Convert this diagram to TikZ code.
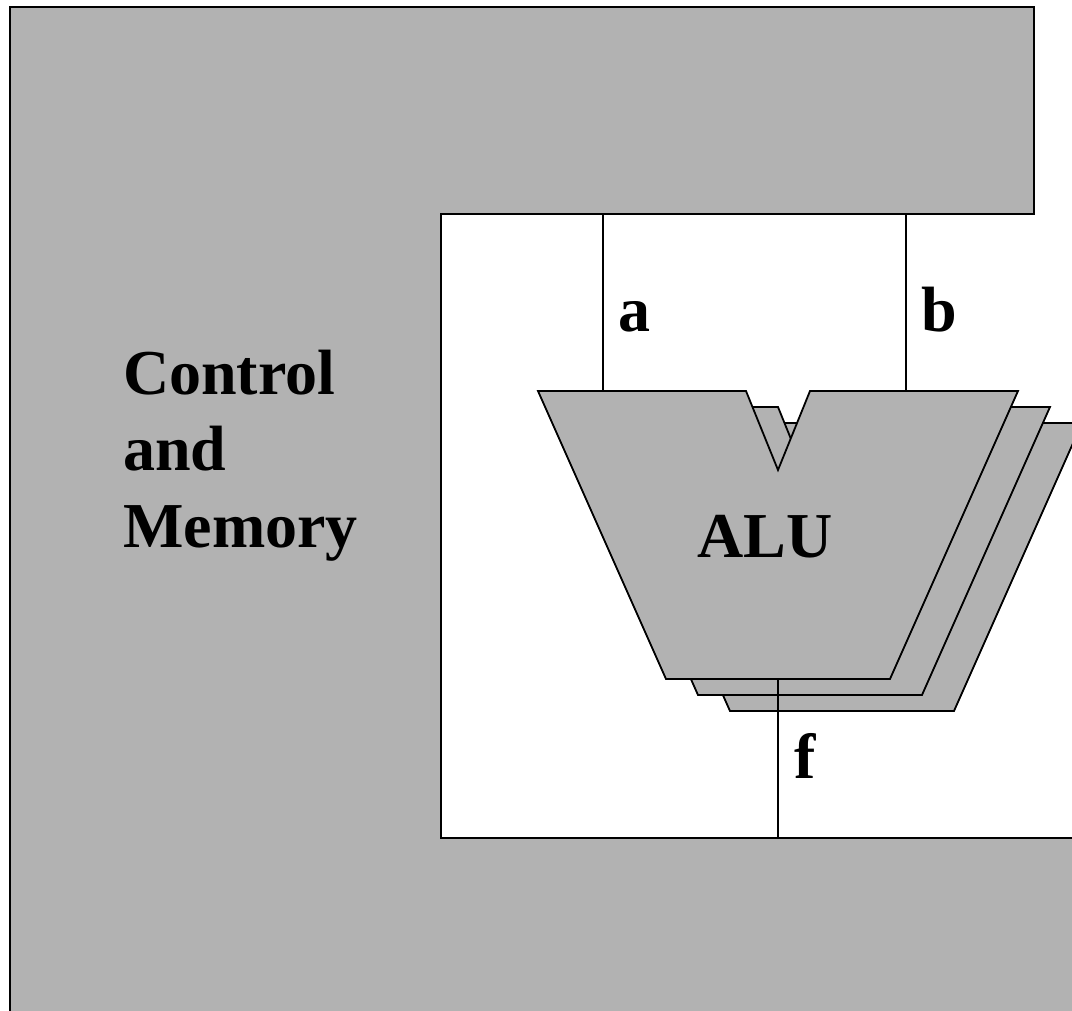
\documentclass[tikz,border=0pt]{standalone}
\usepackage{fontspec}
\setmainfont{Liberation Serif}
\definecolor{boxgray}{HTML}{B2B2B2}
\begin{document}
\begin{tikzpicture}[x=1pt,y=-1pt,
  region/.style={fill=boxgray,draw=black,line width=2pt,line join=miter},
  alushape/.style={fill=boxgray,draw=black,line width=1.8pt,line join=miter},
  wire/.style={draw=black,line width=1.6pt},
  bigtext/.style={font=\bfseries\fontsize{64}{74}\selectfont,inner sep=0pt,anchor=base west},
  lbl/.style={font=\bfseries\fontsize{58}{66}\selectfont,inner sep=0pt,anchor=base west}]
\useasboundingbox (0,0) rectangle (1072,1011);
% white background
\fill[white] (0,0) rectangle (1072,1011);
% Control and Memory region
\draw[region] (1080,1020) -- (1080,838) -- (441,838) -- (441,214) -- (1034,214) -- (1034,7) -- (10,7) -- (10,1020);
% ALU stack (back to front)
\foreach \dx/\dy/\nm in {64/32/alu3,32/16/alu2,0/0/alu1}{
  \begin{scope}[shift={(\dx,\dy)}]
    \draw[alushape] (538,391) -- (746,391) -- (778,470) -- (810,391) -- (1018,391) -- (890,679) -- (666,679) -- cycle;
  \end{scope}
}
% named connection points
\coordinate (atop) at (603,214);
\coordinate (ain) at (603,391);
\coordinate (btop) at (906,214);
\coordinate (bin) at (906,391);
\coordinate (fout) at (778,679);
\coordinate (fbot) at (778,838);
\draw[wire] (atop) -- (ain);
\draw[wire] (btop) -- (bin);
\draw[wire] (fout) -- (fbot);
% texts
\node[bigtext] (ctl) at (123,395) {Control};
\node[bigtext] (and) at (123,470) {and};
\node[bigtext] (mem) at (123,547) {Memory};
\node[bigtext,anchor=base] (alu) at (765,557) {ALU};
\node[bigtext] (la) at (618,332) {a};
\node[bigtext] (lb) at (921,332) {b};
\node[bigtext] (lf) at (794,778) {f};
\end{tikzpicture}
\end{document}
